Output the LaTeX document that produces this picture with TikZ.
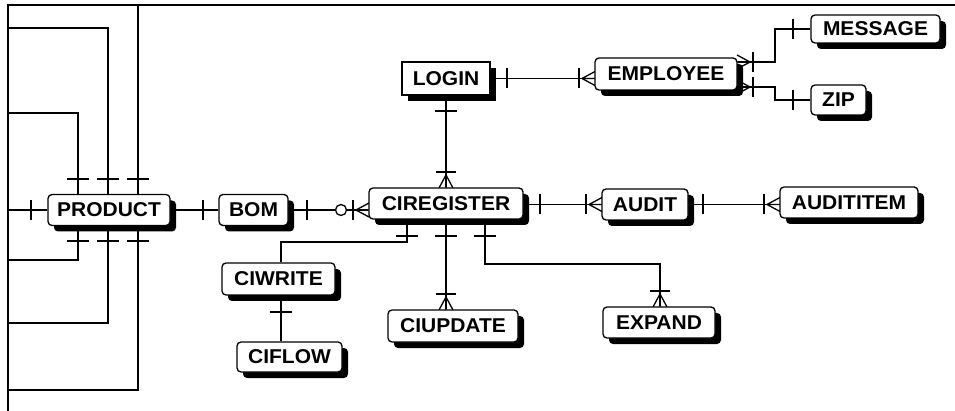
\documentclass[tikz,border=0pt]{standalone}
\usepackage{fontspec}
\setmainfont{Liberation Sans}[FakeStretch=1.05]
\usetikzlibrary{shadows,backgrounds}
\tikzset{
  rel/.style={line width=1.3pt, line cap=butt},
  frameline/.style={line width=2.2pt},
  entity/.style={draw, line width=1.3pt, fill=white, rounded corners=4pt,
    font=\fontsize{20}{22}\selectfont\bfseries, inner sep=0pt,
    drop shadow={shadow xshift=6pt, shadow yshift=-6pt, fill=black, opacity=1}},
  vbar/.pic={\draw[rel] (0,-10) -- (0,10);},
  hbar/.pic={\draw[rel] (-11,0) -- (11,0);},
  crowsfoot/.pic={\draw[rel] (-13,0) -- (0,-7) (-13,0) -- (0,0) (-13,0) -- (0,7);
                  \draw[rel] (-16,-10) -- (-16,10);}
}
\begin{document}
\begin{tikzpicture}[x=1pt,y=-1pt]
\useasboundingbox (0,0) rectangle (955,411);

% entities
\node[entity, minimum width=122pt, minimum height=31pt] (PRODUCT) at (109,210) {PRODUCT};
\node[entity, minimum width=69pt, minimum height=31pt] (BOM) at (253.5,210) {BOM};
\node[entity, minimum width=154pt, minimum height=31pt] (CIREGISTER) at (446,203.5) {CIREGISTER};
\node[entity, sharp corners, minimum width=88pt, minimum height=33pt] (LOGIN) at (446,78.5) {LOGIN};
\node[entity, minimum width=142pt, minimum height=32pt] (EMPLOYEE) at (666,74) {EMPLOYEE};
\node[entity, minimum width=129pt, minimum height=28pt] (MESSAGE) at (875.5,29) {MESSAGE};
\node[entity, minimum width=55pt, minimum height=30pt] (ZIP) at (838.5,100) {ZIP};
\node[entity, minimum width=86pt, minimum height=31pt] (AUDIT) at (645,204.5) {AUDIT};
\node[entity, minimum width=138pt, minimum height=31pt] (AUDITITEM) at (849,202.5) {AUDITITEM};
\node[entity, minimum width=113pt, minimum height=32pt] (CIWRITE) at (278.5,279) {CIWRITE};
\node[entity, minimum width=105pt, minimum height=30pt] (CIFLOW) at (289.5,357) {CIFLOW};
\node[entity, minimum width=130pt, minimum height=32pt] (CIUPDATE) at (453,326) {CIUPDATE};
\node[entity, minimum width=112pt, minimum height=31pt] (EXPAND) at (659,322.5) {EXPAND};

% helper coordinates
\coordinate (FTL) at (8,5);
\coordinate (FTR) at (955,5);
\coordinate (FBL) at (8,411);
\coordinate (FL) at (8,210);
\coordinate (T1) at (8,113);
\coordinate (T2) at (8,28);
\coordinate (T3) at (138,5);
\coordinate (B1) at (8,260);
\coordinate (B2) at (8,323);
\coordinate (B3) at (8,390);
\coordinate (Ej1) at (775,62);
\coordinate (Ej2) at (775,87);
\coordinate (C1) at (281,242);
\coordinate (C2) at (660,264);

\begin{pgfonlayer}{background}
% frame
\draw[frameline] (FBL) -- (FTL) -- (FTR);

% PRODUCT self links to frame
\draw[rel] (FL) -- (PRODUCT.west);
\pic at (31,210) {vbar};
\draw[rel] ([xshift=-31pt]PRODUCT.north) |- (T1);
\draw[rel] ([xshift=-1pt]PRODUCT.north) |- (T2);
\draw[rel] (T3) -- (T3 |- PRODUCT.north);
\draw[rel] (B1) -| ([xshift=-31pt]PRODUCT.south);
\draw[rel] (B2) -| ([xshift=-1pt]PRODUCT.south);
\draw[rel] (B3) -| ([xshift=29pt]PRODUCT.south);
\foreach \x in {78,108,138} {
  \pic at (\x,179) {hbar};
  \pic at (\x,241) {hbar};
}

% PRODUCT - BOM
\draw[rel] (PRODUCT.east) -- (BOM.west);
\pic at (203,210) {vbar};

% BOM - CIREGISTER
\draw[rel] (BOM.east) -- (BOM.east -| CIREGISTER.west);
\pic at (307,210) {vbar};
\draw[rel, fill=white] (341,210) circle (5.5);
\pic at (369,210) {crowsfoot};

% LOGIN - CIREGISTER
\draw[rel] (LOGIN.south) -- (LOGIN.south |- CIREGISTER.north);
\pic at (446,111) {hbar};
\pic[rotate=-90] at (446,188) {crowsfoot};

% LOGIN - EMPLOYEE
\draw[rel] (LOGIN.east) -- (LOGIN.east -| EMPLOYEE.west);
\pic at (507,78.5) {vbar};
\pic at (595,78.5) {crowsfoot};

% EMPLOYEE - MESSAGE / ZIP
\draw[rel] ([yshift=12pt]EMPLOYEE.east) -- (Ej1) |- (MESSAGE.west);
\draw[rel] ([yshift=-13pt]EMPLOYEE.east) -- (Ej2) |- (ZIP.west);
\pic[rotate=180] at (737,62) {crowsfoot};
\pic[rotate=180] at (737,87) {crowsfoot};
\pic at (793,29) {vbar};
\pic at (793,100) {vbar};

% CIREGISTER - AUDIT - AUDITITEM
\draw[rel] (AUDIT.west -| CIREGISTER.east) -- (AUDIT.west);
\pic at (540,204.5) {vbar};
\pic at (602,204.5) {crowsfoot};
\draw[rel] (AUDIT.east) -- (AUDIT.east -| AUDITITEM.west);
\pic at (703,204.5) {vbar};
\pic at (780,204.5) {crowsfoot};

% CIREGISTER bottom links
\draw[rel] ([xshift=-39pt]CIREGISTER.south) |- (C1) -- (C1 |- CIWRITE.north);
\draw[rel] (CIREGISTER.south) -- (CIREGISTER.south |- CIUPDATE.north);
\draw[rel] ([xshift=39pt]CIREGISTER.south) |- (C2) -- (C2 |- EXPAND.north);
\foreach \x in {407,446,485} { \pic at (\x,236) {hbar}; }
\pic[rotate=-90] at (446,310) {crowsfoot};
\pic[rotate=-90] at (660,307) {crowsfoot};

% CIWRITE - CIFLOW
\draw[rel] (C1 |- CIWRITE.south) -- (C1 |- CIFLOW.north);
\pic at (281,312) {hbar};
\end{pgfonlayer}
\end{tikzpicture}
\end{document}
